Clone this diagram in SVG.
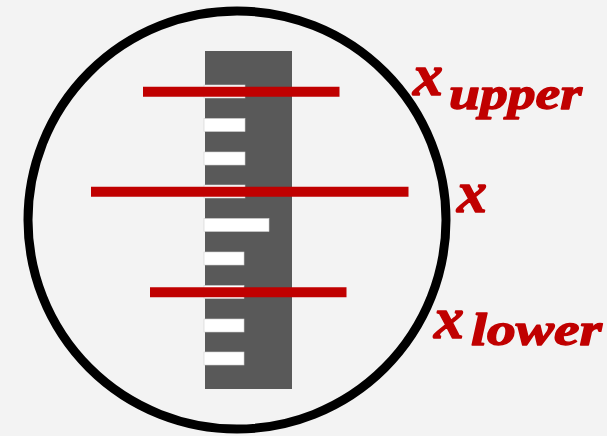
<svg xmlns="http://www.w3.org/2000/svg" width="607" height="436" viewBox="0 0 607 436">
<style>
.tick{fill:#ffffff;stroke:#d0d0d0;stroke-width:0.6}
.red{stroke:#c00000;stroke-width:10;fill:none}
.lbl{font-family:"Liberation Serif","DejaVu Serif",serif;font-weight:bold;font-style:italic;fill:#c00000;stroke:#c00000;stroke-width:1.4;stroke-linejoin:round}
</style>
<rect x="0" y="0" width="607" height="436" fill="#f3f3f3"/>
<g id="circle">
<circle cx="237" cy="220" r="209" fill="none" stroke="#000000" stroke-width="9"/>
</g>
<g id="ruler">
<rect x="205" y="51" width="87" height="338" fill="#595959"/>
<rect class="tick" x="204" y="85" width="41" height="13"/>
<rect class="tick" x="204" y="118.5" width="41" height="13"/>
<rect class="tick" x="204" y="152" width="41" height="13"/>
<rect class="tick" x="204" y="185" width="41" height="13"/>
<rect class="tick" x="204" y="218.5" width="65" height="13"/>
<rect class="tick" x="204" y="252" width="40" height="13"/>
<rect class="tick" x="204" y="285.5" width="40" height="13"/>
<rect class="tick" x="204" y="319" width="40" height="13"/>
<rect class="tick" x="204" y="352" width="40" height="13"/>
</g>
<g id="lines">
<line class="red" x1="143" y1="91.7" x2="339.5" y2="91.7"/>
<line class="red" x1="91" y1="191.7" x2="408.5" y2="191.7"/>
<line class="red" x1="150" y1="292.3" x2="346.5" y2="292.3"/>
</g>
<g id="label-upper">
<text class="lbl" x="413" y="95" font-size="60">x</text>
<text class="lbl" x="449" y="109" font-size="46" textLength="133" lengthAdjust="spacingAndGlyphs">upper</text>
</g>
<g id="label-x">
<text class="lbl" x="457" y="212" font-size="60">x</text>
</g>
<g id="label-lower">
<text class="lbl" x="434" y="338" font-size="60">x</text>
<text class="lbl" x="471" y="345" font-size="46" textLength="131" lengthAdjust="spacingAndGlyphs">lower</text>
</g>
</svg>
